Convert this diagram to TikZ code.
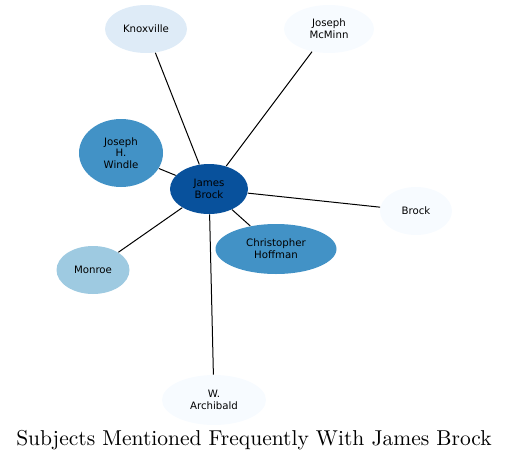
\documentclass[tikz,border=0pt]{standalone}
\usepackage{fontspec}
\usepackage{tikz}
\usetikzlibrary{shapes.geometric}
\newfontfamily\nodefont{DejaVu Sans}
\definecolor{blueA}{HTML}{08519C}
\definecolor{blueB}{HTML}{4292C6}
\definecolor{blueC}{HTML}{9ECAE1}
\definecolor{blueD}{HTML}{DEEBF7}
\definecolor{blueE}{HTML}{F7FBFF}

\begin{document}
\begin{tikzpicture}[x=0.5pt, y=-0.5pt, font=\nodefont\fontsize{5.1}{5.9}\selectfont]
\tikzstyle{subj}=[ellipse, draw=none, inner sep=0pt, align=center, minimum width=36pt, minimum height=24pt]
\tikzstyle{link}=[black, line width=0.5pt]
\useasboundingbox (0,0) rectangle (509,461);
\node (jb) [subj, fill=blueA, minimum width=39pt, minimum height=25pt] at (209,189) {James\\Brock};
\node (knox) [subj, fill=blueD, minimum width=41pt] at (146,29) {Knoxville};
\node (mcm) [subj, fill=blueE, minimum width=45pt] at (329,29) {Joseph\\McMinn};
\node (win) [subj, fill=blueB, minimum width=42pt, minimum height=34pt] at (121,153) {Joseph\\H.\\Windle};
\node (brk) [subj, fill=blueE] at (416,211) {Brock};
\node (hof) [subj, fill=blueB, minimum width=60.5pt, minimum height=25pt] at (276,249) {Christopher\\Hoffman};
\node (mon) [subj, fill=blueC, minimum width=36.5pt] at (93,270) {Monroe};
\node (arc) [subj, fill=blueE, minimum width=52pt, minimum height=25pt] at (214,400) {W.\\Archibald};
\node (title) at (254,440) [font=\rmfamily\fontsize{10.75}{12}\selectfont] {Subjects Mentioned Frequently With James Brock};
\draw[link] (jb) -- (knox);
\draw[link] (jb) -- (mcm);
\draw[link] (jb) -- (win);
\draw[link] (jb) -- (brk);
\draw[link] (jb) -- (hof);
\draw[link] (jb) -- (mon);
\draw[link] (jb) -- (arc);
\end{tikzpicture}
\end{document}
